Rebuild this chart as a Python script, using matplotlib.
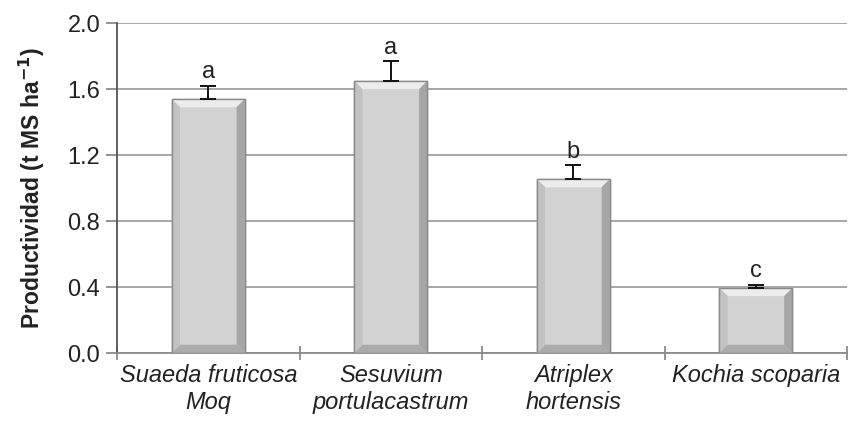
import numpy as np
import matplotlib.pyplot as plt
from matplotlib.patches import Polygon

species = ["Suaeda fruticosa\nMoq", "Sesuvium\nportulacastrum", "Atriplex\nhortensis", "Kochia scoparia"]
productividad = [1.54, 1.65, 1.055, 0.395]
error = [0.08, 0.12, 0.085, 0.02]
letters = ["a", "a", "b", "c"]

plt.rcParams["font.family"] = ["Liberation Sans", "DejaVu Sans"]

fig = plt.figure(figsize=(8.48, 4.21), dpi=100)
ax = fig.add_axes([0.138, 0.1615, 0.861, 0.7835])

x = np.arange(len(species))
bars = ax.bar(x, productividad, width=0.4, color="#d2d2d2", edgecolor="#8a8a8a",
              linewidth=1.0, zorder=3)
ax.errorbar(x, productividad, yerr=[np.zeros(len(error)), error], fmt="none",
            ecolor="#111111", elinewidth=1.4, capsize=6, capthick=1.4, zorder=4)

# bevel shading on each bar
bx, by = 0.045, 0.05
for b in bars:
    x0, y0 = b.get_x(), b.get_y()
    x1, y1 = x0 + b.get_width(), y0 + b.get_height()
    faces = [
        ([(x0, y1), (x1, y1), (x1 - bx, y1 - by), (x0 + bx, y1 - by)], "#ececec"),
        ([(x0, y0), (x1, y0), (x1 - bx, y0 + by), (x0 + bx, y0 + by)], "#ababab"),
        ([(x0, y0), (x0, y1), (x0 + bx, y1 - by), (x0 + bx, y0 + by)], "#c2c2c2"),
        ([(x1, y0), (x1, y1), (x1 - bx, y1 - by), (x1 - bx, y0 + by)], "#a6a6a6"),
    ]
    for pts, c in faces:
        ax.add_patch(Polygon(pts, closed=True, facecolor=c, edgecolor="none", zorder=3.5))
    ax.add_patch(plt.Rectangle((x0, y0), x1 - x0, y1 - y0, fill=False,
                               edgecolor="#8a8a8a", linewidth=1.0, zorder=3.6))

for xi, v, e, l in zip(x, productividad, error, letters):
    ax.text(xi, v + e + 0.015, l, ha="center", va="bottom", fontsize=17, color="#222222")

ax.set_xlim(-0.5, len(species) - 0.5)
ax.set_ylim(0, 2.0)
yt = np.arange(0, 2.01, 0.4)
ax.set_yticks(yt)
ax.set_yticklabels([f"{t:.1f}" for t in yt], fontsize=17, color="#222222")
ax.yaxis.grid(True, color="#a0a0a0", linewidth=1.3)
ax.set_axisbelow(True)

ax.set_xticks(np.arange(-0.5, len(species) + 0.5, 1.0))
ax.set_xticklabels([])
ax.set_xticks(x, minor=True)
ax.set_xticklabels(species, minor=True, fontsize=17, style="italic", color="#222222",
                   linespacing=1.2)
ax.tick_params(axis="x", which="minor", length=0, pad=8)
ax.tick_params(axis="x", which="major", length=10, direction="inout", color="#8a8a8a", width=1.3)
ax.tick_params(axis="y", length=8, direction="out", color="#8a8a8a", width=1.3, pad=4)

for s in ["top", "right"]:
    ax.spines[s].set_visible(False)
ax.spines["left"].set_color("#555555")
ax.spines["left"].set_linewidth(1.3)
ax.spines["bottom"].set_color("#8a8a8a")
ax.spines["bottom"].set_linewidth(1.3)

ax.set_ylabel("Productividad (t MS ha$^{\\mathbf{-1}}$)", fontsize=16.5, fontweight="bold",
              color="#222222", labelpad=15)

fig.savefig("out.png", dpi=100)
